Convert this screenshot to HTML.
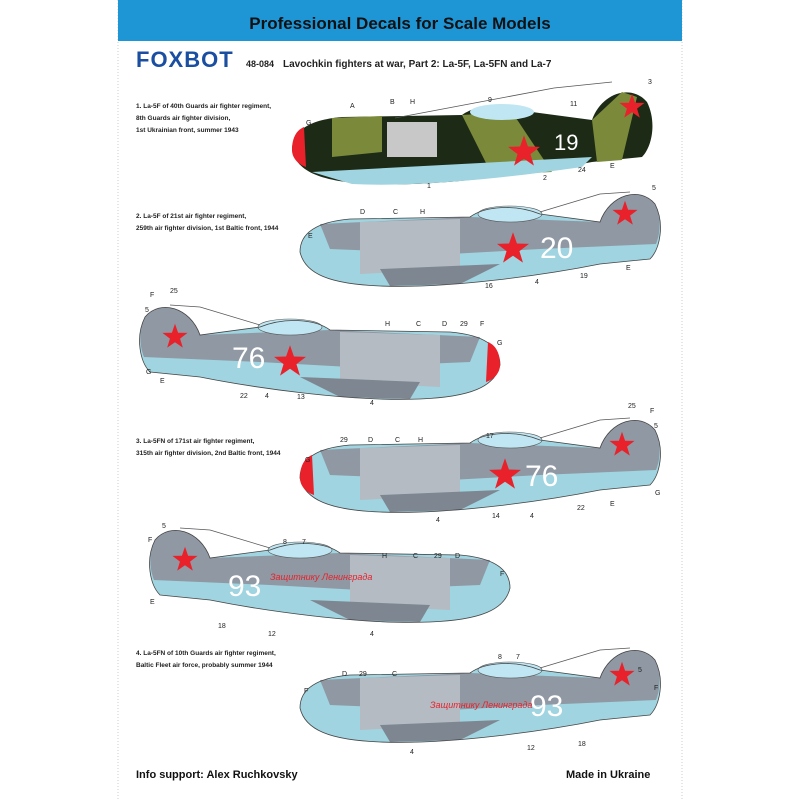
<!DOCTYPE html>
<html><head><meta charset="utf-8"><style>
body{margin:0;background:#fff;}
svg{display:block;font-family:"Liberation Sans",sans-serif;}
</style></head><body>
<svg width="800" height="800" viewBox="0 0 800 800">
<defs>
<path id="fus" d="M0,8 C0,-10 15,-22 50,-25 L170,-27 C185,-38 215,-40 240,-30 L300,-22 C310,-50 340,-58 355,-40 C365,-20 360,5 350,15 L300,20 C250,30 150,45 80,42 C30,40 5,30 0,8 Z"/>
<path id="star" d="M0,-12 L2.8,-3.9 11.4,-3.7 4.6,1.5 7.1,9.7 0,4.8 -7.1,9.7 -4.6,1.5 -11.4,-3.7 -2.8,-3.9Z"/>
<g id="bluePlane">
<use href="#fus" fill="#9fd4e0"/>
<path d="M20,-20 L170,-27 L300,-22 C310,-50 340,-58 355,-40 C362,-25 360,-10 356,0 L240,5 L150,10 L30,5 Z" fill="#8f98a3"/>
<path d="M60,-22 L160,-25 L160,25 L60,30 Z" fill="#b4bbc3"/>
<path d="M80,25 L200,20 L160,40 L90,42 Z" fill="#7d8691"/>
<ellipse cx="210" cy="-30" rx="32" ry="8" fill="#bfe6f2" stroke="#555" stroke-width="0.6"/>
<use href="#fus" fill="none" stroke="#444" stroke-width="0.8"/>
<line x1="240" y1="-32" x2="300" y2="-50" stroke="#555" stroke-width="0.7"/>
<line x1="300" y1="-50" x2="330" y2="-52" stroke="#555" stroke-width="0.7"/>
</g>
</defs>
<rect x="118" y="0" width="564" height="800" fill="#fff"/>
<line x1="118" y1="0" x2="118" y2="800" stroke="#ccc" stroke-dasharray="1,2"/>
<line x1="682" y1="0" x2="682" y2="800" stroke="#ccc" stroke-dasharray="1,2"/>
<rect x="118" y="0" width="564" height="41" fill="#1e96d6"/>
<text x="400" y="29" text-anchor="middle" font-size="17" font-weight="bold" fill="#111">Professional Decals for Scale Models</text>
<text x="136" y="67" font-size="22" font-weight="bold" fill="#1a4ea0" letter-spacing="1">FOXBOT</text>
<text x="246" y="67" font-size="9" font-weight="bold" fill="#222">48-084</text>
<text x="283" y="67" font-size="10" font-weight="bold" fill="#222">Lavochkin fighters at war, Part 2: La-5F, La-5FN and La-7</text>
<g font-size="6.5" font-weight="bold" fill="#222">
<text x="136" y="108">1. La-5F of 40th Guards air fighter regiment,</text>
<text x="136" y="120">8th Guards air fighter division,</text>
<text x="136" y="132">1st Ukrainian front, summer 1943</text>
<text x="136" y="218">2. La-5F of 21st air fighter regiment,</text>
<text x="136" y="230">259th air fighter division, 1st Baltic front, 1944</text>
<text x="136" y="443">3. La-5FN of 171st air fighter regiment,</text>
<text x="136" y="455">315th air fighter division, 2nd Baltic front, 1944</text>
<text x="136" y="655">4. La-5FN of 10th Guards air fighter regiment,</text>
<text x="136" y="667">Baltic Fleet air force, probably summer 1944</text>
</g>
<!-- plane 1 -->
<g transform="translate(292,142) scale(1,1)">
<use href="#fus" fill="#1c2a16"/>
<path d="M40,-24 L90,-26 L90,10 L40,15 Z" fill="#7a8a3a"/>
<path d="M170,-27 L220,-30 L260,30 L200,33 Z" fill="#7a8a3a"/>
<path d="M300,-22 L330,-50 L345,-45 L330,18 L305,20Z" fill="#7a8a3a"/>
<path d="M20,30 L300,15 L290,25 C200,38 120,45 60,42Z" fill="#9fd4e0"/>
<rect x="95" y="-20" width="50" height="35" fill="#c8c8c8"/>
<path d="M0,8 C0,-5 5,-12 12,-15 L14,25 C5,22 0,15 0,8Z" fill="#e8212a"/>
<ellipse cx="210" cy="-30" rx="32" ry="8" fill="#bfe6f2"/>
<use href="#star" transform="translate(232,10) scale(1.4)" fill="#e8212a"/>
<use href="#star" transform="translate(340,-35) scale(1.1)" fill="#e8212a"/>
<text x="262" y="8" font-size="22" fill="#fff">19</text>
</g>
<line x1="395" y1="118" x2="554" y2="88" stroke="#555" stroke-width="0.8"/>
<line x1="554" y1="88" x2="612" y2="82" stroke="#555" stroke-width="0.8"/>
<!-- plane 2 -->
<g transform="translate(300,244)"><use href="#bluePlane"/>
<use href="#star" transform="translate(213,5) scale(1.4)" fill="#e8212a"/>
<use href="#star" transform="translate(325,-30) scale(1.1)" fill="#e8212a"/>
<text x="240" y="14" font-size="30" fill="#fff">20</text></g>
<!-- plane 3 nose right -->
<g transform="translate(500,357) scale(-1,1)"><use href="#bluePlane"/>
<path d="M0,8 C0,-5 5,-12 12,-15 L14,25 C5,22 0,15 0,8Z" fill="#e8212a"/>
<use href="#star" transform="translate(210,5) scale(1.4)" fill="#e8212a"/>
<use href="#star" transform="translate(325,-20) scale(1.1)" fill="#e8212a"/>
</g>
<text x="232" y="368" font-size="30" fill="#fff">76</text>
<!-- plane 4 -->
<g transform="translate(300,470)"><use href="#bluePlane"/>
<path d="M0,8 C0,-5 5,-12 12,-15 L14,25 C5,22 0,15 0,8Z" fill="#e8212a"/>
<use href="#star" transform="translate(205,5) scale(1.4)" fill="#e8212a"/>
<use href="#star" transform="translate(322,-25) scale(1.1)" fill="#e8212a"/>
<text x="225" y="16" font-size="30" fill="#fff">76</text></g>
<!-- plane 5 nose right -->
<g transform="translate(510,580) scale(-1,1)"><use href="#bluePlane"/>
<use href="#star" transform="translate(325,-20) scale(1.1)" fill="#e8212a"/>
</g>
<text x="228" y="596" font-size="30" fill="#fff">93</text>
<text x="270" y="580" font-size="9" font-style="italic" fill="#e8212a">Защитнику Ленинграда</text>
<!-- plane 6 -->
<g transform="translate(300,700)"><use href="#bluePlane"/>
<use href="#star" transform="translate(322,-25) scale(1.1)" fill="#e8212a"/>
<text x="230" y="16" font-size="30" fill="#fff">93</text>
<text x="130" y="8" font-size="9" font-style="italic" fill="#e8212a">Защитнику Ленинграда</text></g>
<!-- labels -->
<g font-size="7" fill="#222">
<text x="350" y="108">A</text><text x="390" y="104">B</text><text x="410" y="104">H</text>
<text x="306" y="125">G</text><text x="488" y="102">9</text><text x="570" y="106">11</text><text x="648" y="84">3</text>
<text x="427" y="188">1</text><text x="543" y="180">2</text><text x="578" y="172">24</text><text x="610" y="168">E</text>
<text x="360" y="214">D</text><text x="393" y="214">C</text><text x="420" y="214">H</text><text x="652" y="190">5</text>
<text x="308" y="238">E</text><text x="485" y="288">16</text><text x="535" y="284">4</text><text x="580" y="278">19</text><text x="626" y="270">E</text>
<text x="170" y="293">25</text><text x="150" y="297">F</text><text x="145" y="312">5</text><text x="146" y="374">G</text><text x="160" y="383">E</text>
<text x="385" y="326">H</text><text x="416" y="326">C</text><text x="442" y="326">D</text><text x="460" y="326">29</text><text x="480" y="326">F</text><text x="497" y="345">G</text>
<text x="240" y="398">22</text><text x="265" y="398">4</text><text x="297" y="399">13</text><text x="370" y="405">4</text>
<text x="340" y="442">29</text><text x="368" y="442">D</text><text x="395" y="442">C</text><text x="418" y="442">H</text><text x="486" y="438">17</text>
<text x="628" y="408">25</text><text x="650" y="413">F</text><text x="654" y="428">5</text><text x="655" y="495">G</text><text x="305" y="462">G</text>
<text x="436" y="522">4</text><text x="492" y="518">14</text><text x="530" y="518">4</text><text x="577" y="510">22</text><text x="610" y="506">E</text>
<text x="162" y="528">5</text><text x="148" y="542">F</text><text x="150" y="604">E</text><text x="218" y="628">18</text>
<text x="283" y="544">8</text><text x="302" y="544">7</text><text x="268" y="636">12</text>
<text x="382" y="558">H</text><text x="413" y="558">C</text><text x="434" y="558">29</text><text x="455" y="558">D</text><text x="500" y="576">F</text><text x="370" y="636">4</text>
<text x="342" y="676">D</text><text x="359" y="676">29</text><text x="392" y="676">C</text><text x="304" y="693">F</text>
<text x="498" y="659">8</text><text x="516" y="659">7</text><text x="638" y="672">5</text><text x="654" y="690">F</text>
<text x="410" y="754">4</text><text x="527" y="750">12</text><text x="578" y="746">18</text>
</g>
<text x="136" y="778" font-size="11" font-weight="bold" fill="#111">Info support: Alex Ruchkovsky</text>
<text x="566" y="778" font-size="11" font-weight="bold" fill="#111">Made in Ukraine</text>
</svg>
</body></html>
